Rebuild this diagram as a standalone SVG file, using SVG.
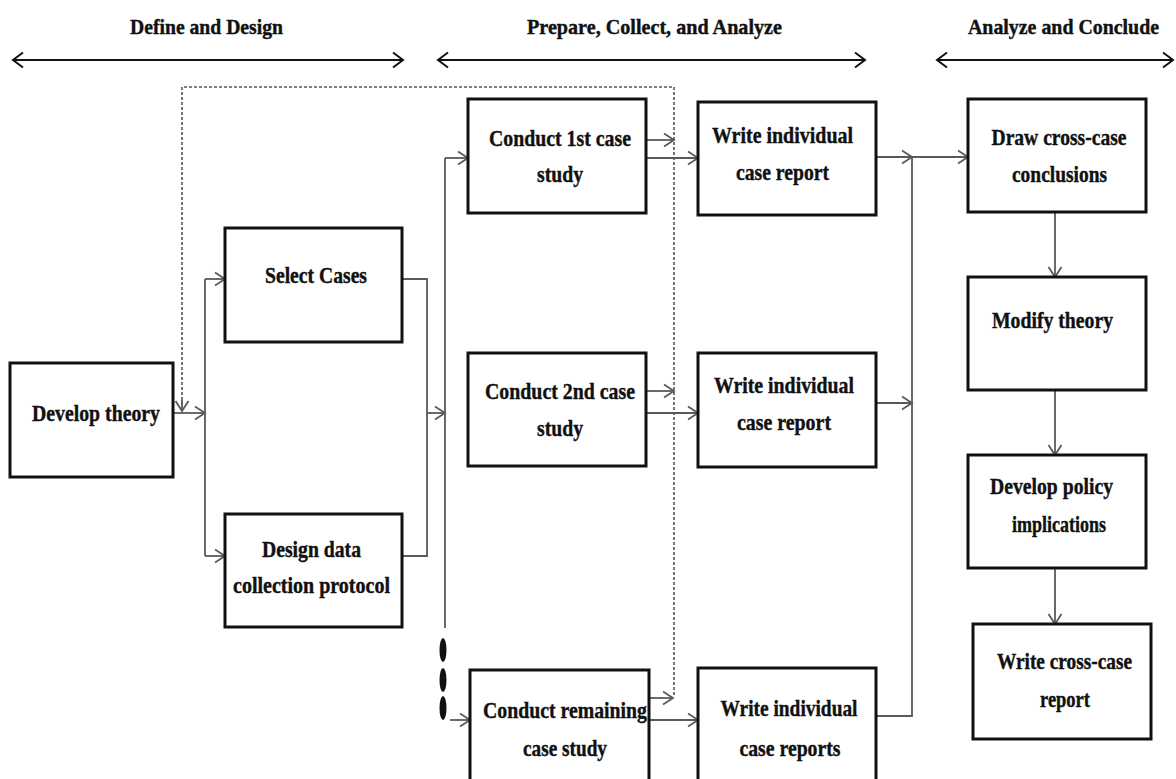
<svg xmlns="http://www.w3.org/2000/svg" width="1176" height="779" viewBox="0 0 1176 779">
  <style>
    .box { fill: #fff; stroke: #111; stroke-width: 3; }
    .t { font-family: "Liberation Serif", "Times New Roman", serif; font-weight: bold; font-size: 24px; fill: #111; stroke: #111; stroke-width: 0.4; text-anchor: middle; }
    .h { font-family: "Liberation Serif", "Times New Roman", serif; font-weight: bold; font-size: 21px; fill: #111; stroke: #111; stroke-width: 0.4; text-anchor: middle; }
    .c { fill: none; stroke: #5a5a5a; stroke-width: 1.8; }
    .ca { fill: none; stroke: #5a5a5a; stroke-width: 1.8; marker-end: url(#ah); }
    .dash { fill: none; stroke: #555; stroke-width: 1.6; stroke-dasharray: 3 2; }
    .span { fill: none; stroke: #111; stroke-width: 2; marker-start: url(#hh); marker-end: url(#hh); }
  </style>
  <defs>
    <marker id="ah" markerUnits="userSpaceOnUse" viewBox="-12 -8 14 16" refX="0" refY="0" markerWidth="14" markerHeight="16" orient="auto" overflow="visible">
      <path d="M-10,-6.5 L0,0 L-10,6.5" fill="none" stroke="#5a5a5a" stroke-width="1.8"/>
    </marker>
    <marker id="hh" markerUnits="userSpaceOnUse" viewBox="-12 -9 14 18" refX="0" refY="0" markerWidth="14" markerHeight="18" orient="auto-start-reverse" overflow="visible">
      <path d="M-10,-7.5 L0,0 L-10,7.5" fill="none" stroke="#111" stroke-width="2"/>
    </marker>
  </defs>
  <rect width="1176" height="779" fill="#fff"/>

  <!-- phase headers -->
  <g id="phase-define">
    <text class="h" x="206.5" y="34" textLength="153" lengthAdjust="spacingAndGlyphs">Define and Design</text>
    <path class="span" d="M13,60 H403"/>
  </g>
  <g id="phase-prepare">
    <text class="h" x="654.5" y="34" textLength="255" lengthAdjust="spacingAndGlyphs">Prepare, Collect, and Analyze</text>
    <path class="span" d="M438,60 H865"/>
  </g>
  <g id="phase-conclude">
    <text class="h" x="1063.5" y="34" textLength="191" lengthAdjust="spacingAndGlyphs">Analyze and Conclude</text>
    <path class="span" d="M937,60 H1173"/>
  </g>

  <!-- connectors -->
  <g id="connectors">
    <path class="dash" d="M674,695 V87 H182 V405"/>
    <path class="ca" d="M182,400 V411"/>
    <path class="ca" d="M173,413 H205"/>
    <path class="c" d="M205,279 V556"/>
    <path class="ca" d="M205,279 H225"/>
    <path class="ca" d="M205,556 H225"/>
    <path class="c" d="M402,279 H427 V556 H402"/>
    <path class="ca" d="M427,413 H445"/>
    <path class="c" d="M445,158 V628"/>
    <path class="ca" d="M445,158 H468"/>
    <path class="ca" d="M646,140 H674"/>
    <path class="ca" d="M646,158 H698"/>
    <path class="ca" d="M646,391 H674"/>
    <path class="ca" d="M646,413 H698"/>
    <path class="ca" d="M450,720 H470"/>
    <path class="ca" d="M649,698 H673"/>
    <path class="ca" d="M649,720 H698"/>
    <path class="ca" d="M876,157 H912"/>
    <path class="ca" d="M912,157 H968"/>
    <path class="ca" d="M876,403 H912"/>
    <path class="c" d="M876,716 H912 V157"/>
    <path class="ca" d="M1055,212 V277"/>
    <path class="ca" d="M1055,390 V455"/>
    <path class="ca" d="M1055,568 V624"/>
    <!-- ellipsis for further cases -->
    <ellipse cx="443" cy="650" rx="3.5" ry="12" fill="#111"/>
    <ellipse cx="443" cy="680" rx="3.5" ry="12" fill="#111"/>
    <ellipse cx="443" cy="708" rx="3.5" ry="12" fill="#111"/>
  </g>

  <!-- nodes -->
  <g id="develop-theory">
    <rect class="box" x="10" y="363" width="163" height="114"/>
    <text class="t" x="96" y="421" textLength="128" lengthAdjust="spacingAndGlyphs">Develop theory</text>
  </g>
  <g id="select-cases">
    <rect class="box" x="225" y="228" width="177" height="114"/>
    <text class="t" x="316" y="283" textLength="102" lengthAdjust="spacingAndGlyphs">Select Cases</text>
  </g>
  <g id="design-protocol">
    <rect class="box" x="225" y="514" width="177" height="113"/>
    <text class="t" x="311.5" y="557" textLength="99" lengthAdjust="spacingAndGlyphs">Design data</text>
    <text class="t" x="311.5" y="593" textLength="157" lengthAdjust="spacingAndGlyphs">collection protocol</text>
  </g>
  <g id="conduct-1">
    <rect class="box" x="468" y="99" width="178" height="114"/>
    <text class="t" x="560" y="146" textLength="142" lengthAdjust="spacingAndGlyphs">Conduct 1st case</text>
    <text class="t" x="560" y="182" textLength="46" lengthAdjust="spacingAndGlyphs">study</text>
  </g>
  <g id="report-1">
    <rect class="box" x="698" y="102" width="178" height="113"/>
    <text class="t" x="782.5" y="143" textLength="141" lengthAdjust="spacingAndGlyphs">Write individual</text>
    <text class="t" x="782.5" y="180" textLength="93" lengthAdjust="spacingAndGlyphs">case report</text>
  </g>
  <g id="conduct-2">
    <rect class="box" x="468" y="353" width="178" height="113"/>
    <text class="t" x="560" y="399" textLength="150" lengthAdjust="spacingAndGlyphs">Conduct 2nd case</text>
    <text class="t" x="560" y="436" textLength="46" lengthAdjust="spacingAndGlyphs">study</text>
  </g>
  <g id="report-2">
    <rect class="box" x="698" y="353" width="178" height="114"/>
    <text class="t" x="784" y="393" textLength="140" lengthAdjust="spacingAndGlyphs">Write individual</text>
    <text class="t" x="784" y="430" textLength="94" lengthAdjust="spacingAndGlyphs">case report</text>
  </g>
  <g id="conduct-rest">
    <rect class="box" x="470" y="670" width="179" height="125"/>
    <text class="t" x="565" y="718" textLength="164" lengthAdjust="spacingAndGlyphs">Conduct remaining</text>
    <text class="t" x="565" y="756" textLength="84" lengthAdjust="spacingAndGlyphs">case study</text>
  </g>
  <g id="report-rest">
    <rect class="box" x="698" y="668" width="178" height="127"/>
    <text class="t" x="789" y="716" textLength="137" lengthAdjust="spacingAndGlyphs">Write individual</text>
    <text class="t" x="790" y="756" textLength="101" lengthAdjust="spacingAndGlyphs">case reports</text>
  </g>
  <g id="cross-case-conclusions">
    <rect class="box" x="968" y="99" width="178" height="113"/>
    <text class="t" x="1059" y="145" textLength="135" lengthAdjust="spacingAndGlyphs">Draw cross-case</text>
    <text class="t" x="1059.5" y="182" textLength="95" lengthAdjust="spacingAndGlyphs">conclusions</text>
  </g>
  <g id="modify-theory">
    <rect class="box" x="968" y="277" width="178" height="113"/>
    <text class="t" x="1052.5" y="328" textLength="121" lengthAdjust="spacingAndGlyphs">Modify theory</text>
  </g>
  <g id="policy-implications">
    <rect class="box" x="968" y="455" width="178" height="113"/>
    <text class="t" x="1051.5" y="494" textLength="123" lengthAdjust="spacingAndGlyphs">Develop policy</text>
    <text class="t" x="1059" y="532" textLength="94" lengthAdjust="spacingAndGlyphs">implications</text>
  </g>
  <g id="cross-case-report">
    <rect class="box" x="973" y="624" width="178" height="115"/>
    <text class="t" x="1064.5" y="669" textLength="135" lengthAdjust="spacingAndGlyphs">Write cross-case</text>
    <text class="t" x="1065" y="707" textLength="50" lengthAdjust="spacingAndGlyphs">report</text>
  </g>
</svg>
